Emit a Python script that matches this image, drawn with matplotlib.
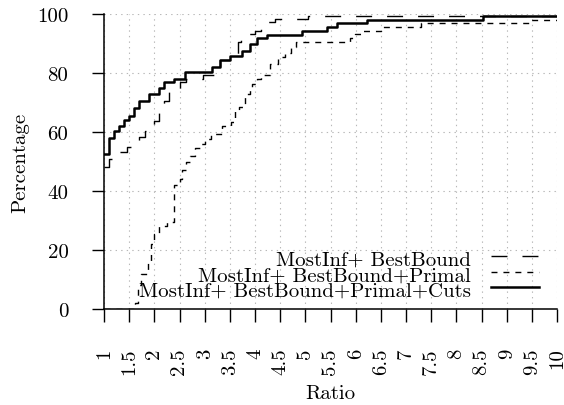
import matplotlib
matplotlib.use("Agg")
import matplotlib.pyplot as plt
from matplotlib.lines import Line2D

plt.rcParams['font.family'] = ['cmr10', 'DejaVu Serif']
plt.rcParams['axes.formatter.use_mathtext'] = True
plt.rcParams['lines.scale_dashes'] = False

# ---- data ----
series_labels = ["MostInf+ BestBound",
                 "MostInf+ BestBound+Primal",
                 "MostInf+ BestBound+Primal+Cuts"]

x_bestbound = [1.0, 1.1, 1.3, 1.45, 1.7, 1.82, 2.0, 2.1, 2.2, 2.3, 2.5, 2.63, 2.97, 3.2,
               3.3, 3.5, 3.66, 3.73, 4.0, 4.12, 4.4, 5.05, 10.0]
y_bestbound = [48, 50.8, 53.2, 55, 58.3, 60.5, 63.8, 66.8, 70.6, 74, 77, 78, 79.2, 80.8,
               84.5, 85.6, 90.5, 93.2, 94.4, 97.2, 98.2, 99.4, 99.4]

x_primal = [1.0, 1.62, 1.68, 1.74, 1.88, 1.93, 2.0, 2.1, 2.25, 2.4, 2.5, 2.55, 2.62, 2.7,
            2.8, 2.9, 3.0, 3.12, 3.35, 3.52, 3.6, 3.68, 3.8, 3.9, 3.95, 4.03, 4.12, 4.3,
            4.45, 4.6, 4.72, 4.82, 5.88, 5.98, 6.1, 6.5, 7.3, 9.45, 10.0]
y_primal = [0, 2, 8, 12, 16, 22, 25.5, 28, 29.5, 42, 44, 47, 50, 52,
            54.5, 56, 57.6, 59.3, 62, 63.3, 67, 68.4, 73, 75, 76.3, 78, 79.3, 83,
            85.5, 86.7, 88.7, 90.5, 91.7, 93.2, 94.4, 95.7, 96.9, 98.1, 98.1]

x_cuts = [1.0, 1.1, 1.2, 1.29, 1.4, 1.5, 1.6, 1.7, 1.9, 2.1, 2.2, 2.4, 2.6, 3.15, 3.3,
          3.5, 3.75, 3.9, 4.03, 4.23, 4.93, 5.43, 5.62, 6.22, 8.53, 10.0]
y_cuts = [52.7, 58, 60.5, 62, 64, 65.5, 68, 70.5, 73, 75, 76.8, 78, 80.5, 82, 84.5,
          85.6, 87.5, 90, 91.7, 93, 94.3, 95.7, 96.8, 98.1, 99.4, 99.4]

x_ticks = [1, 1.5, 2, 2.5, 3, 3.5, 4, 4.5, 5, 5.5, 6, 6.5, 7, 7.5, 8, 8.5, 9, 9.5, 10]
x_ticklabels = ["1", "1.5", "2", "2.5", "3", "3.5", "4", "4.5", "5", "5.5", "6", "6.5",
                "7", "7.5", "8", "8.5", "9", "9.5", "10"]
y_ticks = [0, 20, 40, 60, 80, 100]
y_ticklabels = ["0", "20", "40", "60", "80", "100"]

W, H = 564, 406
FS = 15
fig = plt.figure(figsize=(W / 100, H / 100), dpi=100)
L, R, B, T = 104, 557, 310, 15
ax = fig.add_axes([L / W, 1 - B / H, (R - L) / W, (B - T) / H])

styles = [dict(color='black', lw=1.0, linestyle=(0, (11.5, 10.8))),
          dict(color='black', lw=1.0, linestyle=(0, (4.3, 4.3))),
          dict(color='black', lw=1.8, linestyle='-')]

ax.step(x_bestbound, y_bestbound, where='post', **styles[0])
ax.step(x_primal, y_primal, where='post', **styles[1])
ax.step(x_cuts, y_cuts, where='post', **styles[2])

ax.set_xlim(1, 10)
ax.set_ylim(0, 100)
ax.set_xticks(x_ticks)
ax.set_xticklabels(x_ticklabels, rotation=90, va='top', ha='center', fontsize=FS)
ax.set_yticks(y_ticks)
ax.set_yticklabels(y_ticklabels, fontsize=FS)
ax.tick_params(axis='x', direction='out', length=9.5, width=1.0, pad=18)
ax.tick_params(axis='y', direction='out', length=8.6, width=1.0, pad=17)
ax.grid(True, color='#b8b8b8', linestyle=(0, (1, 3)), lw=0.8)
for s in ['top', 'right']:
    ax.spines[s].set_visible(False)
for s in ['left', 'bottom']:
    ax.spines[s].set_linewidth(1.1)

fig.text(((L + R) / 2) / W, 1 - 399 / H, "Ratio", ha='center', va='baseline', fontsize=FS)
fig.text(20.5 / W, 1 - ((T + B) / 2) / H, "Percentage", ha='center', va='center',
         rotation=90, fontsize=FS)

# legend (gnuplot-style, right aligned text with sample on right)
text_right = 470.7
base_y = [266, 281.5, 297]
for lab, st, by in zip(series_labels, styles, base_y):
    fig.text(text_right / W, 1 - by / H, lab, ha='right', va='baseline', fontsize=FS)
    ly = 1 - (by - 8.7) / H
    fig.add_artist(Line2D([491 / W, 539 / W], [ly, ly], transform=fig.transFigure, **st))

fig.savefig("out.png", dpi=100)
